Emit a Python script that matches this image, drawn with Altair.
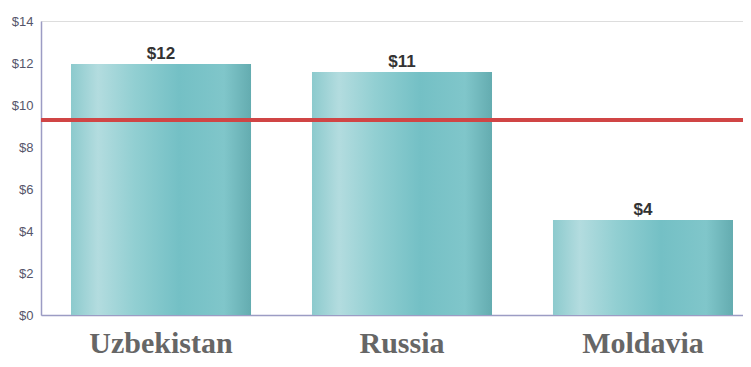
import altair as alt
import pandas as pd

countries = ["Uzbekistan", "Russia", "Moldavia"]
values = [11.95, 11.57, 4.52]
value_labels = ["$12", "$11", "$4"]
reference_value = [9.28]
y_ticks = [0, 2, 4, 6, 8, 10, 12, 14]

df = pd.DataFrame({"country": countries, "value": values, "label": value_labels})
ref = pd.DataFrame({"ref": reference_value})

gradient = alt.Gradient(
    gradient="linear",
    x1=0, x2=1, y1=0, y2=0,
    stops=[
        alt.GradientStop(color="#8ccacd", offset=0),
        alt.GradientStop(color="#b3dcdf", offset=0.15),
        alt.GradientStop(color="#92cfd2", offset=0.35),
        alt.GradientStop(color="#74c0c5", offset=0.6),
        alt.GradientStop(color="#80c6ca", offset=0.85),
        alt.GradientStop(color="#64acb0", offset=1),
    ],
)

x_enc = alt.X(
    "country:N",
    sort=countries,
    scale=alt.Scale(paddingInner=0.253, paddingOuter=0.083, align=0.75),
    axis=alt.Axis(
        title=None,
        labelAngle=0,
        labelFont="Liberation Serif",
        labelFontWeight="bold",
        labelFontSize=30,
        labelColor="#666666",
        labelPadding=37,
        labelBaseline="alphabetic",
        ticks=False,
        domainColor="#9c9cc4",
        domainWidth=1.5,
        grid=False,
    ),
)

y_scale = alt.Scale(domain=[0, 14], nice=False)

bars = alt.Chart(df).mark_bar(color=gradient).encode(
    x=x_enc,
    y=alt.Y(
        "value:Q",
        scale=y_scale,
        axis=alt.Axis(
            title=None,
            values=y_ticks,
            labelExpr="'$' + datum.value",
            labelFont="Liberation Sans Narrow, Liberation Sans",
            labelFontSize=13,
            labelColor="#55556a",
            labelPadding=8,
            ticks=False,
            domainColor="#9c9cc4",
            domainWidth=1.5,
            grid=False,
        ),
    ),
)

text = alt.Chart(df).mark_text(
    font="Liberation Sans",
    fontWeight="bold",
    fontSize=17,
    color="#333333",
    baseline="alphabetic",
    dy=-5,
).encode(
    x=alt.X("country:N", sort=countries),
    y=alt.Y("value:Q", scale=y_scale),
    text="label:N",
)

rule = alt.Chart(ref).mark_rule(color="#d04545", strokeWidth=4).encode(
    y=alt.Y("ref:Q", scale=y_scale)
)

chart = (
    alt.layer(bars, rule, text)
    .properties(
        width=702,
        height=294,
        autosize=alt.AutoSizeParams(type="none"),
        padding={"left": 33, "top": 13, "right": 0, "bottom": 44},
    )
    .configure_view(stroke=None)
    .configure(background="white")
)

chart.save("out.html", embed_options={"renderer": "svg", "actions": False})
